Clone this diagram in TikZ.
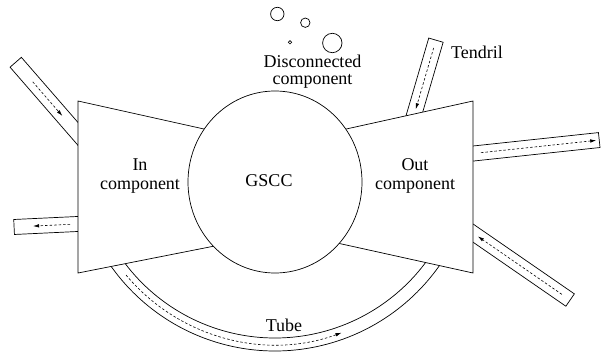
\documentclass[tikz,border=0pt]{standalone}
\usepackage{fontspec}
\setmainfont{Liberation Serif}
\usetikzlibrary{arrows.meta}
\begin{document}
\begin{tikzpicture}[x=1pt,y=-1pt,
    outline/.style={draw,line width=0.7pt},
    part/.style={outline,fill=white},
    flow/.style={line width=0.6pt,dash pattern=on 2.5pt off 2pt,-{Latex[length=6pt,width=3.5pt]}},
    lbl/.style={font=\fontsize{18}{19}\selectfont,align=center,inner sep=0pt}]
    \useasboundingbox (0,0) rectangle (603,356);

    % tendrils and tubes leaving the components
    \foreach \px/\py/\ang/\len/\from/\to in {
        84.6/141.5/229/105/79/34,
        88/223.5/177.3/74/18/55,
        411.8/122.7/286.3/86/78/14,
        465/154.4/353.9/135/16/132,
        466.4/228.5/34.6/126/116/14}{
        \begin{scope}[shift={(\px,\py)},rotate=-\ang]
            \draw[outline] (0,-7.5) rectangle (\len,7.5);
            \draw[flow] (\from,0) -- (\to,0);
        \end{scope}
    }

    % tube
    \draw[outline] (275,150) ++(146:188) arc[start angle=146,end angle=34,radius=188];
    \draw[outline] (275,150) ++(147:201) arc[start angle=147,end angle=33,radius=201];
    \draw[flow] (275,150) ++(140:194.5) arc[start angle=140,end angle=70,radius=194.5];

    % in, out and strongly connected part
    \draw[part] (78,101) -- (240,137) -- (240,241) -- (78,273) -- cycle;
    \draw[part] (473,101) -- (310,137) -- (310,237) -- (473,273) -- cycle;
    \draw[part] (275,182) ellipse[x radius=87,y radius=91];

    % disconnected components
    \foreach \cx/\cy/\r in {277.3/14/6.7, 305.3/22.7/4.7, 290/42.3/1.7, 332.3/43/9.7}
        \draw[outline] (\cx,\cy) circle[radius=\r];

    % labels
    \node[lbl] (in) at (140,176) {In\\component};
    \node[lbl] (out) at (415,176) {Out\\component};
    \node[lbl] (gscc) at (269,181) {GSCC};
    \node[lbl] (tube) at (284,325) {Tube};
    \node[lbl] (tendril) at (477,52) {Tendril};
    \node[lbl,font=\fontsize{18}{17}\selectfont] (dis) at (312.5,72) {Disconnected\\component};
\end{tikzpicture}
\end{document}
